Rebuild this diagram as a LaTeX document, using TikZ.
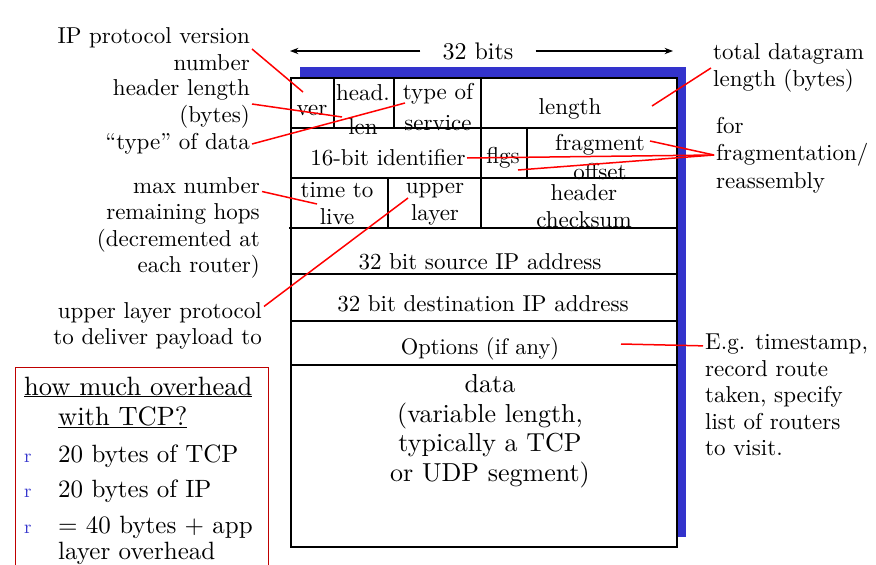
\documentclass[tikz,border=0pt]{standalone}
\usepackage{fontspec}
\setmainfont{lmroman10-regular}[Extension=.otf, BoldFont=lmroman10-bold, ItalicFont=lmroman10-italic]
\usepackage{tikz}
\usetikzlibrary{arrows.meta}
\definecolor{shadowblue}{RGB}{51,51,204}

\begin{document}
\begin{tikzpicture}[
		x=1pt, y=-1pt,
		>=Stealth,
		field/.style={
			inner sep=0pt,
			align=center,
			font=\fontsize{23}{27}\selectfont
		},
		note/.style={
			inner sep=2pt,
			font=\fontsize{23}{27}\selectfont
		},
		ptr/.style={red, line width=1.5pt},
		rule/.style={line width=1.6pt}
		]
		\useasboundingbox (0,0) rectangle (876,565);
		
		% datagram frame with its blue shadow
		\fill[shadowblue] (300,67) rectangle (686,537);
		\fill[white] (291,78) rectangle (677,547);
		\draw[rule] (291,78) rectangle (677,547);
		\draw[rule] (291,128) -- (677,128);
		\draw[rule] (291,178) -- (677,178);
		\draw[rule] (289,228) -- (677,228);
		\draw[rule] (291,274) -- (677,274);
		\draw[rule] (291,321) -- (677,321);
		\draw[rule] (291,365) -- (677,365);
		\draw[rule] (334,78) -- (334,128);
		\draw[rule] (394,78) -- (394,128);
		\draw[rule] (481,78) -- (481,228);
		\draw[rule] (527,128) -- (527,178);
		\draw[rule] (388,178) -- (388,228);
		
		% header fields
		\node[field] (ver) at (312,110) {ver};
		\node[field] (hlen) at (363,110) {head.\\[7pt]len};
		\node[field] (tos) at (438,107) {type of\\[4pt]service};
		\node[field] (len) at (570,109) {length};
		\node[field] (ident) at (388,158) {16-bit identifier};
		\node[field] (flgs) at (503,158) {flgs};
		\node[field] (frag) at (600,157) {fragment\\[2pt]offset};
		\node[field] (ttl) at (337,204) {time to\\live};
		\node[field] (proto) at (435,204) {upper\\layer};
		\node[field] (cksum) at (584,206) {header\\checksum};
		\node[field] (src) at (480,262) {32 bit source IP address};
		\node[field] (dst) at (483,304) {32 bit destination IP address};
		\node[field, font=\fontsize{22.5}{26}\selectfont] (opts) at (480,349) {Options (if any)};
		\node[field, font=\fontsize{26}{29.5}\selectfont] (data) at (490,431)
		{data\\(variable length,\\typically a TCP\\or UDP segment)};
		
		% width of a row
		\node[field, inner xsep=22pt, font=\fontsize{24}{28}\selectfont] (bits) at (478,51) {32 bits};
		\coordinate (bitsL) at (290,50);
		\coordinate (bitsR) at (673,50);
		\draw[->, line width=1.2pt] (bits.west) -- (bits.west -| bitsL);
		\draw[->, line width=1.2pt] (bits.east) -- (bits.east -| bitsR);
		
		% notes on the left
		\node[note, anchor=east, align=right] (lver) at (252,49) {IP protocol version\\number};
		\node[note, anchor=east, align=right] (lhlen) at (252,104) {header length\\(bytes)};
		\node[note, anchor=east, align=right] (ltos) at (252,144) {``type'' of data};
		\node[note, anchor=east, align=right, font=\fontsize{23}{26.3}\selectfont] (lttl) at (262,228)
		{max number\\remaining hops\\(decremented at\hspace*{6pt}\\each router)};
		\node[note, anchor=east, align=right, font=\fontsize{23}{26}\selectfont] (lproto) at (264,326)
		{upper layer protocol\\to deliver payload to};
		
		% notes on the right
		\node[note, anchor=west, align=left] (ltot) at (711,68) {total datagram\\length (bytes)};
		\node[note, anchor=west, align=left, font=\fontsize{23}{27.5}\selectfont] (lfrag) at (714,155)
		{for\\fragmentation/\\reassembly};
		\node[note, anchor=west, align=left, font=\fontsize{23}{26.5}\selectfont] (lopt) at (703,395)
		{E.g. timestamp,\\record route\\taken, specify\\list of routers\\to visit.};
		
		% pointer ends inside the header
		\coordinate (verP) at (303,92);
		\coordinate (hlenP) at (342,117);
		\coordinate (tosP) at (405,103);
		\coordinate (ttlP) at (317,204);
		\coordinate (protoP) at (408,198);
		\coordinate (lenP) at (652,106);
		\coordinate (fragP) at (650,141);
		\coordinate (identP) at (467,158);
		\coordinate (offP) at (518,170);
		\coordinate (optsP) at (621,344);
		
		% red pointers
		\draw[ptr] (lver.east) -- (verP);
		\draw[ptr] (lhlen.east) -- (hlenP);
		\draw[ptr] (ltos.east) -- (tosP);
		\draw[ptr] ([yshift=-16pt]lttl.north east) -- (ttlP);
		\draw[ptr] ([yshift=-6pt]lproto.north east) -- (protoP);
		\draw[ptr] (ltot.west) -- (lenP);
		\draw[ptr] (lfrag.west) -- (fragP);
		\draw[ptr] (lfrag.west) -- (identP);
		\draw[ptr] (lfrag.west) -- (offP);
		\draw[ptr] ([yshift=-14pt]lopt.north west) -- (optsP);
		
		% overhead box
		\draw[red!75!black, line width=0.8pt] (15,367) rectangle (268,600);
		\node[note, anchor=base west, inner sep=0pt, align=left, font=\fontsize{26.5}{30}\selectfont] (ohead) at (24,425)
		{\underline{how much overhead}\\\hspace*{34pt}\underline{with TCP?}};
		\foreach \i/\yb/\txt in {1/462/20 bytes of TCP, 2/497/20 bytes of IP, 3/559/{= 40 bytes + app\\layer overhead}} {
			\node[anchor=base west, inner sep=0pt, align=left, font=\fontsize{25}{26}\selectfont] (item\i) at (58,\yb) {\txt};
		}
		\foreach \i/\yb in {1/462, 2/497, 3/533}
			\node[anchor=base west, inner sep=0pt, text=shadowblue, font=\fontsize{19}{22}\selectfont] (r\i) at (24,\yb) {r};
		
		\end{tikzpicture}
\end{document}
